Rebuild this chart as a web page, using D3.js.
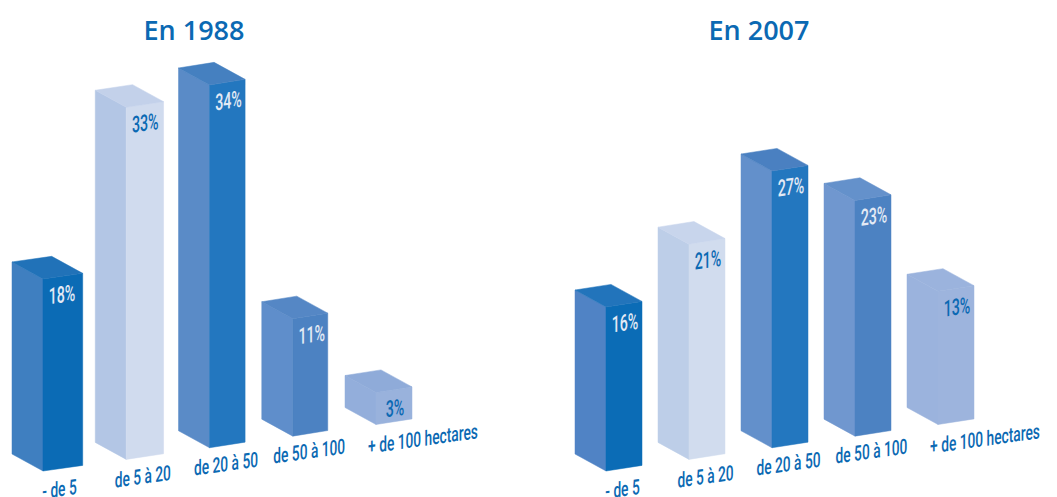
<!DOCTYPE html>
<html lang="fr">
<head>
<meta charset="utf-8">
<script src="https://cdn.jsdelivr.net/npm/d3@7"></script>
<style>
  html, body { margin: 0; background: #fff; overflow: hidden; }
  svg { display: block; }
  .title { font: 600 27px "Open Sans", sans-serif; fill: #0b69b3; text-anchor: middle; }
  .pct, .cat { font-family: Roboto, sans-serif; font-weight: 500; text-anchor: middle; }
  .pct { font-size: 23px; }
  .cat { font-size: 21px; fill: #0b69b3; }
</style>
</head>
<body>
<svg id="vizSVG" width="1057" height="497"></svg>
<script>
const categories = ['- de 5', 'de 5 à 20', 'de 20 à 50', 'de 50 à 100', '+ de 100 hectares']
const values1988 = [18, 33, 34, 11, 3]
const values2007 = [16, 21, 27, 23, 13]

// couleurs des faces [gauche, dessus, droite]
const colors1988 = [
    ['#3f7fc0', '#2172b8', '#0b6bb5'],
    ['#b3c6e5', '#c3d1ea', '#d0dbee'],
    ['#5a8bc7', '#4580c0', '#2377bf'],
    ['#5f8ecb', '#5587c5', '#4c82c2'],
    ['#93aedb', '#8fabd9', '#99b2dc'],
]
const colors2007 = [
    ['#5083c5', '#2274bb', '#0b6cb6'],
    ['#bdcee8', '#c8d5ec', '#d1dcee'],
    ['#6390cb', '#4a80c1', '#2377bf'],
    ['#7097cf', '#6491cb', '#4c82c2'],
    ['#9bb3dd', '#9bb3dd', '#9db4dd'],
]
const pctColors = ['#e3eaf5', '#0b69b3', '#e3eaf5', '#e3eaf5', '#0b69b3']

const SKEW = -8
const NARROW = 0.655 // pas de police étroite installée, on comprime
const PCT_NARROW = 0.62
const LEFT_FACE = { dx: -31, dy: -17 }
const RIGHT_FACE_DY = -5.6

const svg = d3.select('#vizSVG')
const polygon = d3.line()

function renderPanel(cfg) {
    const g = svg.append('g')
    const idx = d3.range(categories.length)

    // position de l'arête avant : la base du graphique monte vers la droite
    const x = d3.scaleLinear().domain([0, 4]).range(cfg.xRange)
    const base = d3.scaleLinear().domain([0, 4]).range([471, 424.5])
    const h = d3.scaleLinear().domain([0, 1]).range([0, cfg.pxPerPoint])

    g.append('text')
        .attr('class', 'title')
        .attr('x', cfg.titleX)
        .attr('y', 39.5)
        .text(cfg.title)

    const bar = g.selectAll('g.bar').data(idx).join('g').attr('class', 'bar')

    const geom = i => {
        const fx = x(i), fy = base(i), top = fy - h(cfg.values[i])
        const w = cfg.rightWidths[i]
        return { fx, fy, top, rx: fx + w, lx: fx + LEFT_FACE.dx }
    }

    const face = (colorIdx, points) =>
        bar.append('path')
            .attr('fill', i => cfg.colors[i][colorIdx])
            .attr('stroke', i => cfg.colors[i][colorIdx])
            .attr('stroke-width', 0.5)
            .attr('d', i => polygon(points(geom(i))) + 'Z')

    // face gauche
    face(0, b => [
        [b.lx, b.fy + LEFT_FACE.dy],
        [b.fx, b.fy],
        [b.fx, b.top],
        [b.lx, b.top + LEFT_FACE.dy],
    ])

    // face droite
    face(2, b => [
        [b.fx, b.fy],
        [b.rx, b.fy + RIGHT_FACE_DY],
        [b.rx, b.top + RIGHT_FACE_DY],
        [b.fx, b.top],
    ])

    // dessus
    face(1, b => [
        [b.fx, b.top],
        [b.rx, b.top + RIGHT_FACE_DY],
        [b.rx + LEFT_FACE.dx, b.top + RIGHT_FACE_DY + LEFT_FACE.dy],
        [b.lx, b.top + LEFT_FACE.dy],
    ])

    // pourcentages sur la face droite
    bar.append('text')
        .attr('class', 'pct')
        .attr('fill', i => pctColors[i])
        .attr('dy', '0.35em')
        .attr('transform', i => {
            const b = geom(i)
            return `translate(${b.fx + 19},${b.top + 15.5}) skewY(${SKEW}) scale(${PCT_NARROW},1)`
        })
        .text(i => cfg.values[i] + '%')

    // catégories
    bar.append('text')
        .attr('class', 'cat')
        .attr('dy', '0.35em')
        .attr('transform', i => {
            const b = geom(i)
            const dx = i === 4 ? 47 : 16.5
            return `translate(${b.fx + dx},${b.fy + 18 - i}) skewY(${SKEW}) scale(${NARROW},1)`
        })
        .text(i => categories[i])
}

renderPanel({
    title: 'En 1988',
    titleX: 194,
    values: values1988,
    colors: colors1988,
    xRange: [43, 376],
    pxPerPoint: 10.67,
    rightWidths: [39.7, 37.3, 35.6, 35, 36],
})

renderPanel({
    title: 'En 2007',
    titleX: 759,
    values: values2007,
    colors: colors2007,
    xRange: [606, 938],
    pxPerPoint: 10.25,
    rightWidths: [36, 36, 36, 36, 36],
})
</script>
</body>
</html>
